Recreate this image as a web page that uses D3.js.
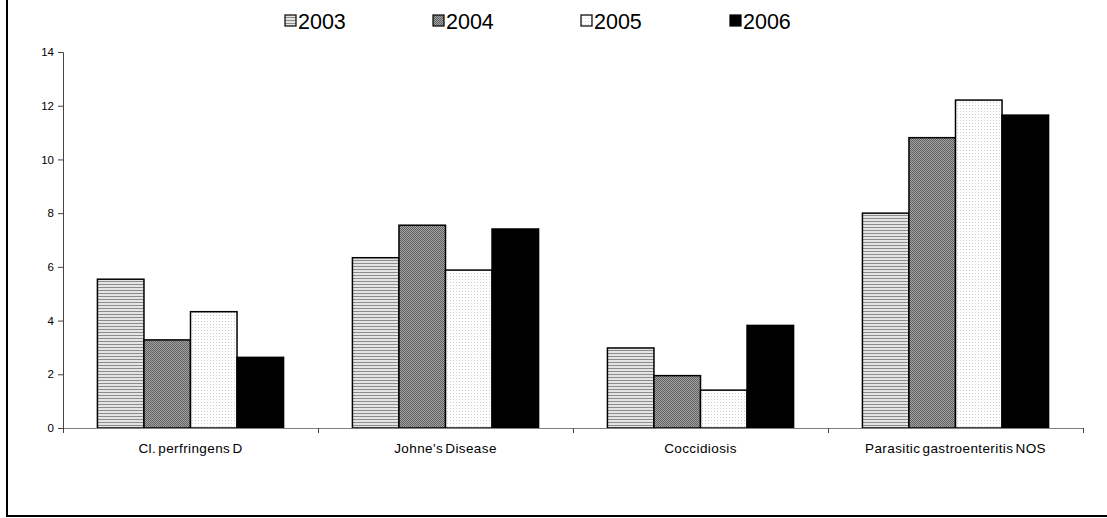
<!DOCTYPE html>
<html>
<head>
<meta charset="utf-8">
<script src="https://cdn.jsdelivr.net/npm/d3@7"></script>
<style>
  html, body { margin: 0; padding: 0; background: #fff; }
  svg { display: block; }
  text { font-family: "Liberation Sans", Arial, sans-serif; }
</style>
</head>
<body>
<svg id="chart" width="1107" height="518"></svg>
<script>
const categories = ["Cl. perfringens D", "Johne's Disease", "Coccidiosis", "Parasitic gastroenteritis NOS"];
const years = ["2003", "2004", "2005", "2006"];
const values2003 = [5.54, 6.34, 2.98, 8.0];
const values2004 = [3.28, 7.55, 1.95, 10.81];
const values2005 = [4.33, 5.88, 1.41, 12.21];
const values2006 = [2.63, 7.41, 3.82, 11.65];
const yTicks = [0, 2, 4, 6, 8, 10, 12, 14];

const series = [values2003, values2004, values2005, values2006];

const svg = d3.select("#chart");
const W = 1107, H = 518;
const plot = { left: 63, right: 1083, top: 52, bottom: 428 };

// patterns
const defs = svg.append("defs");
const p1 = defs.append("pattern").attr("id", "pat0").attr("patternUnits", "userSpaceOnUse").attr("width", 4).attr("height", 3);
p1.append("rect").attr("width", 4).attr("height", 3).attr("fill", "#e4e4e4");
p1.append("rect").attr("y", 2).attr("width", 4).attr("height", 1).attr("fill", "#8c8c8c");

const p2 = defs.append("pattern").attr("id", "pat1").attr("patternUnits", "userSpaceOnUse").attr("width", 2).attr("height", 2);
p2.append("rect").attr("width", 2).attr("height", 2).attr("fill", "#a4a4a4");
p2.append("rect").attr("width", 1).attr("height", 1).attr("fill", "#606060");
p2.append("rect").attr("x", 1).attr("y", 1).attr("width", 1).attr("height", 1).attr("fill", "#606060");

const p3 = defs.append("pattern").attr("id", "pat2").attr("patternUnits", "userSpaceOnUse").attr("width", 3).attr("height", 3);
p3.append("rect").attr("width", 3).attr("height", 3).attr("fill", "#ffffff");
p3.append("rect").attr("width", 1).attr("height", 1).attr("fill", "#cccccc");

const fills = ["url(#pat0)", "url(#pat1)", "url(#pat2)", "#000000"];

// outer frame (extends beyond top/right edges)
svg.append("rect")
  .attr("x", 7).attr("y", -10)
  .attr("width", W + 20).attr("height", 516 - (-10))
  .attr("fill", "none").attr("stroke", "#000").attr("stroke-width", 2);

// scales
const x0 = d3.scaleBand().domain(categories).range([plot.left, plot.right])
  .paddingInner(0.27).paddingOuter(0.135);
const x1 = d3.scaleBand().domain(years).range([0, x0.bandwidth()]);
const y = d3.scaleLinear().domain([0, 14]).range([plot.bottom, plot.top]);

// bars
const g = svg.append("g");
categories.forEach((c, ci) => {
  years.forEach((yr, si) => {
    const v = series[si][ci];
    g.append("rect")
      .attr("x", x0(c) + x1(yr))
      .attr("y", y(v))
      .attr("width", x1.bandwidth())
      .attr("height", y(0) - y(v))
      .attr("fill", fills[si])
      .attr("stroke", "#000")
      .attr("stroke-width", 1.5);
  });
});

// y axis
const yAxis = d3.axisLeft(y).tickValues(yTicks).tickSize(5).tickPadding(4).tickFormat(d3.format("d"));
const ya = svg.append("g").attr("transform", `translate(${plot.left},0)`).call(yAxis);
ya.select(".domain").attr("stroke", "#444");
ya.selectAll(".tick line").attr("stroke", "#444");
ya.selectAll("text").attr("font-size", "11.5px").attr("fill", "#000")
  .style("font-family", "'Liberation Sans', Arial, sans-serif");

// x axis: category boundary ticks
const step = x0.step();
const boundaries = d3.range(categories.length + 1).map(i => plot.left + i * step);
const xa = svg.append("g");
xa.append("line").attr("x1", plot.left).attr("x2", plot.right)
  .attr("y1", plot.bottom + 0.5).attr("y2", plot.bottom + 0.5)
  .attr("stroke", "#808080").attr("stroke-width", 1);
xa.selectAll("line.bt").data(boundaries).enter().append("line")
  .attr("class", "bt")
  .attr("x1", d => Math.round(d) + 0.5).attr("x2", d => Math.round(d) + 0.5)
  .attr("y1", plot.bottom).attr("y2", plot.bottom + 5)
  .attr("stroke", "#444");
xa.selectAll("text.cat").data(categories).enter().append("text")
  .attr("class", "cat")
  .attr("x", d => x0(d) + x0.bandwidth() / 2)
  .attr("y", 453)
  .attr("text-anchor", "middle")
  .attr("font-size", "13.5px")
  .attr("letter-spacing", "0.4px")
  .attr("word-spacing", "-2px")
  .attr("fill", "#000")
  .text(d => d);

// legend
const legX = [285, 433, 581, 730];
const leg = svg.append("g");
years.forEach((yr, i) => {
  leg.append("rect")
    .attr("x", legX[i]).attr("y", 15)
    .attr("width", 11).attr("height", 11)
    .attr("fill", fills[i]).attr("stroke", "#000").attr("stroke-width", 1.2);
  leg.append("text")
    .attr("x", legX[i] + 13).attr("y", 28.5)
    .attr("font-size", "21.5px")
    .attr("fill", "#000")
    .text(yr);
});
</script>
</body>
</html>
